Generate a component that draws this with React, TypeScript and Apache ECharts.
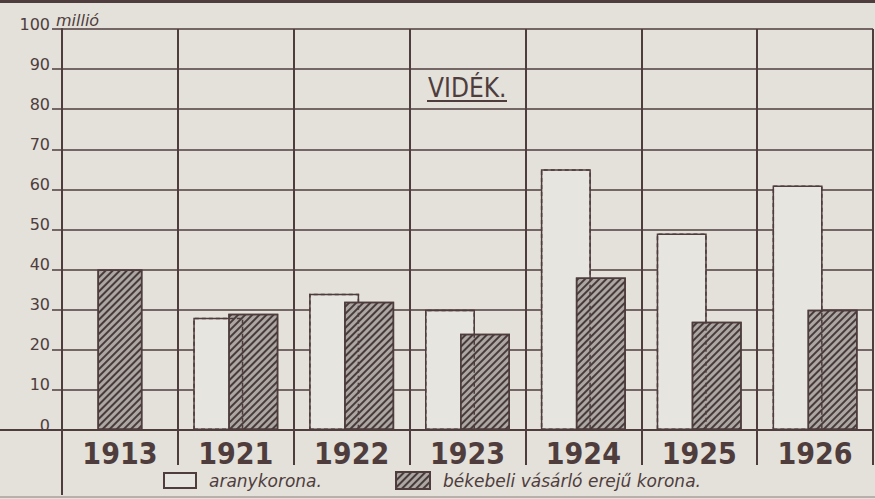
import React, { useEffect, useRef } from "react";
import * as echarts from "echarts";

const categories = ["1913", "1921", "1922", "1923", "1924", "1925", "1926"];
const aranykorona: (number | null)[] = [null, 28, 34, 30, 65, 49, 61];
const bekebeli: number[] = [40, 29, 32, 24, 38, 27, 30];
const yTicks = [0, 10, 20, 30, 40, 50, 60, 70, 80, 90, 100];

const NAME_GOLD = "aranykorona.";
const NAME_PEACE = "békebeli vásárló erejű korona.";

const PAPER = "#e3e1da";
const INK = "#4f3d3d";

export default function App() {
  const ref = useRef<HTMLDivElement>(null);
  useEffect(() => {
    document.body.style.margin = "0";
    const chart = echarts.init(ref.current!, null, { renderer: "svg" });
    const paired = bekebeli.map((v, i) => (aranykorona[i] == null ? null : v));
    const solo = bekebeli.map((v, i) => (aranykorona[i] == null ? v : null));
    const decal = {
      symbol: "rect",
      symbolSize: 1,
      dashArrayX: [1, 0],
      dashArrayY: [1.4, 2.2],
      rotation: -Math.PI / 4,
      color: "rgba(60,48,48,0.9)",
    };
    const hatchStyle = {
      color: "#aca7a3",
      borderColor: INK,
      borderWidth: 1.5,
      decal,
    };
    const baseX = {
      type: "category",
      data: categories,
      boundaryGap: true,
    };
    const legendText = {
      color: INK,
      fontSize: 17,
      fontStyle: "italic",
      fontFamily: "'DejaVu Sans', sans-serif",
      padding: [0, 0, 0, 8],
    };
    chart.setOption({
      animation: false,
      backgroundColor: PAPER,
      grid: { left: 62, right: 2, top: 29, bottom: 69, containLabel: false },
      xAxis: [
        {
          ...baseX,
          axisLine: { show: true, lineStyle: { color: INK, width: 2 } },
          axisTick: { show: true, length: 35, interval: 0, lineStyle: { color: INK, width: 2 } },
          splitLine: { show: true, interval: 0, lineStyle: { color: INK, width: 2 } },
          axisLabel: {
            interval: 0,
            margin: 8,
            color: INK,
            fontSize: 30,
            fontWeight: "bold",
            fontFamily: "'Liberation Sans Narrow', 'DejaVu Sans Condensed', sans-serif",
          },
        },
        { ...baseX, show: false },
        { ...baseX, show: false },
      ],
      yAxis: {
        type: "value",
        min: 0,
        max: 100,
        interval: 10,
        axisLine: { show: true, lineStyle: { color: INK, width: 2 } },
        axisTick: { show: true, length: 10, lineStyle: { color: INK, width: 1.5 } },
        splitLine: { show: true, lineStyle: { color: INK, width: 1.5 } },
        axisLabel: {
          margin: 12,
          color: INK,
          fontSize: 16,
          fontFamily: "'DejaVu Sans', sans-serif",
          verticalAlign: "bottom",
          padding: [0, 0, -3, 0],
          formatter: (v: number) => (yTicks.includes(v) ? String(v) : ""),
        },
      },
      legend: [
        {
          data: [NAME_GOLD],
          left: 163,
          top: 472,
          padding: 0,
          icon: "rect",
          itemWidth: 32,
          itemHeight: 15,
          textStyle: legendText,
        },
        {
          data: [NAME_PEACE],
          left: 395,
          top: 471,
          padding: 0,
          icon: "rect",
          itemWidth: 34,
          itemHeight: 17,
          textStyle: legendText,
        },
      ],
      series: [
        {
          name: NAME_GOLD,
          type: "bar",
          xAxisIndex: 0,
          data: aranykorona,
          barWidth: 50,
          barGap: "-30%",
          itemStyle: { color: "#e7e5df", borderColor: INK, borderWidth: 1.5 },
          z: 2,
        },
        {
          name: NAME_PEACE,
          type: "bar",
          xAxisIndex: 0,
          data: paired,
          barWidth: 50,
          barGap: "-30%",
          itemStyle: hatchStyle,
          z: 3,
        },
        {
          name: NAME_PEACE,
          type: "bar",
          xAxisIndex: 1,
          data: solo,
          barWidth: 45,
          itemStyle: hatchStyle,
          z: 3,
        },
        {
          name: "outline",
          type: "bar",
          xAxisIndex: 2,
          data: aranykorona,
          barWidth: 50,
          barGap: "-30%",
          itemStyle: {
            color: "rgba(0,0,0,0)",
            borderColor: INK,
            borderWidth: 1.5,
            borderType: [4, 3],
          },
          z: 4,
          silent: true,
        },
        {
          name: "dummy",
          type: "bar",
          xAxisIndex: 2,
          data: categories.map(() => null),
          barWidth: 50,
          barGap: "-30%",
          z: 4,
          silent: true,
        },
      ],
      graphic: [
        { type: "rect", shape: { x: 0, y: 0, width: 875, height: 3 }, style: { fill: INK } },
        { type: "line", shape: { x1: 0, y1: 497, x2: 875, y2: 497 }, style: { stroke: "#8a7f7c", lineWidth: 1 } },
        { type: "line", shape: { x1: 0, y1: 430, x2: 62, y2: 430 }, style: { stroke: INK, lineWidth: 2 } },
        { type: "line", shape: { x1: 62, y1: 430, x2: 62, y2: 495 }, style: { stroke: INK, lineWidth: 2 } },
        {
          type: "text",
          left: 56,
          top: 12,
          style: {
            text: "millió",
            fill: INK,
            fontSize: 16,
            fontStyle: "italic",
            fontFamily: "'DejaVu Sans', sans-serif",
          },
        },
        {
          type: "text",
          left: 428,
          top: 75,
          style: {
            text: "VIDÉK.",
            fill: INK,
            fontSize: 26,
            fontFamily: "'Liberation Sans Narrow', 'DejaVu Sans Condensed', sans-serif",
          },
        },
        { type: "line", shape: { x1: 427, y1: 101, x2: 507, y2: 101 }, style: { stroke: INK, lineWidth: 2 } },
      ],
    });
    return () => chart.dispose();
  }, []);
  return <div ref={ref} style={{ width: 875, height: 499, background: PAPER }} />;
}
